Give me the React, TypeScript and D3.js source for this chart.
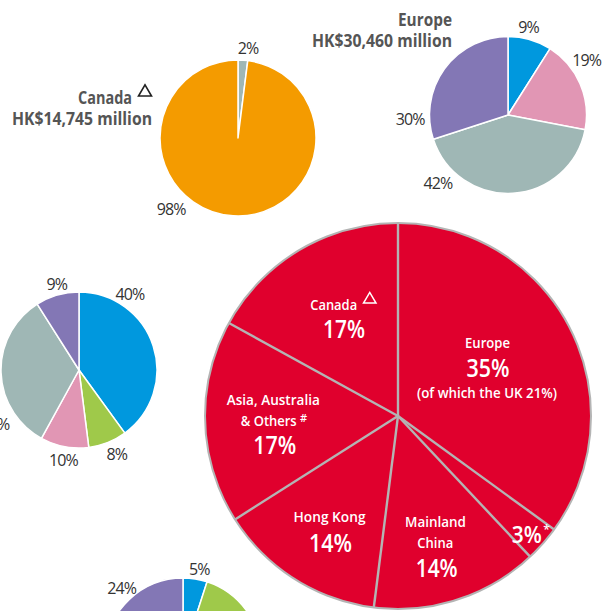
import React from 'react';
import * as d3 from 'd3';

// ---------- data ----------
const bigCategories = ['Europe', 'Other', 'Mainland China', 'Hong Kong', 'Asia, Australia & Others', 'Canada'];
const bigValues = [35, 3, 14, 14, 17, 17];
const bigLabelLines = [['Europe'], [], ['Mainland', 'China'], ['Hong Kong'], ['Asia, Australia', '& Others'], ['Canada']];
const bigMarks = ['', '*', '', '', '#', 'triangle'];
const europeNote = '(of which the UK 21%)';

const canadaTitle = ['Canada', 'HK$14,745 million'];
const canadaValues = [2, 98];

const europeTitle = ['Europe', 'HK$30,460 million'];
const europeValues = [9, 19, 42, 30];

const leftValues = [40, 8, 10, 33, 9];
const bottomValues = [5, 20, 11, 40, 24];

// ---------- styles ----------
const C = {
  red: '#e0002d',
  orange: '#f49b00',
  gray: '#9fb7b5',
  blue: '#0098de',
  pink: '#e196b4',
  purple: '#8377b5',
  green: '#9fc94a',
  sep: '#b4b4b4',
  text: '#333333',
  title: '#555555',
};
const FONT = "'Open Sans', 'Noto Sans', sans-serif";
const W = 612, H = 611;

const canadaColors = [C.gray, C.orange];
const europeColors = [C.blue, C.pink, C.gray, C.purple];
const mixColors = [C.blue, C.green, C.pink, C.gray, C.purple];

// label anchors: [angle deg clockwise from top, distance]
const canadaLabelPos = [[6.3, 90.6], [223.3, 97.6]];
const europeLabelPos = [[13.2, 90.4], [55, 96], [225.8, 97.6], [267.7, 98]];
const leftLabelPos = [[33.9, 91.5], [155.8, 92], [189.8, 92], [237.3, 100], [345.5, 88.8]];
const bottomLabelPos = [[10.6, 88.2], [120, 95], [170, 95], [230, 95], [318, 91.5]];

const pieGen = d3.pie<number>().sort(null).value((d) => d);

function polar(cx: number, cy: number, a: number, d: number) {
  const r = (a * Math.PI) / 180;
  return [cx + d * Math.sin(r), cy - d * Math.cos(r)];
}

function SmallPie({ cx, cy, r, values, colors, labelPos }: any) {
  const arcs = pieGen(values);
  const arc = d3.arc<any>().innerRadius(0).outerRadius(r);
  return (
    <g>
      <g transform={`translate(${cx},${cy})`}>
        {arcs.map((a, i) => (
          <path key={i} d={arc(a) || ''} fill={colors[i]} stroke="#fff" strokeWidth={1.5} strokeLinejoin="round" />
        ))}
      </g>
      {arcs.map((a, i) => {
        const [x, y] = polar(cx, cy, labelPos[i][0], labelPos[i][1]);
        if (y > H + 8) return null; // outside the visible frame
        return (
          <text key={i} x={x} y={y} dy="0.36em" textAnchor="middle" fontFamily={FONT} fontSize={16}
            fill={C.text} letterSpacing={-0.9}>
            {`${values[i]}%`}
          </text>
        );
      })}
    </g>
  );
}

function Triangle({ x, y, size, color, sw }: any) {
  const pts = `${x},${y} ${x + size},${y} ${x + size / 2},${y - size * 0.85}`;
  return <polygon points={pts} fill="none" stroke={color} strokeWidth={sw} strokeLinejoin="miter" />;
}

export default function App() {
  const bcx = 398, bcy = 416, br = 193;
  const bigArcs = pieGen(bigValues);
  const bigArc = d3.arc<any>().innerRadius(0).outerRadius(br);

  const white = { fill: '#fff', fontFamily: FONT, textAnchor: 'middle' as const };

  return (
    <svg width={W} height={H} viewBox={`0 0 ${W} ${H}`}
      style={{ position: 'absolute', left: 0, top: 0, background: '#fff' }}>
      {/* Canada pie */}
      <SmallPie cx={238} cy={138} r={78} values={canadaValues} colors={canadaColors} labelPos={canadaLabelPos} />
      <text x={132} y={104} textAnchor="end" fontFamily={FONT} fontWeight={700} fontSize={18} fill={C.title}
        textLength={54} lengthAdjust="spacingAndGlyphs">{canadaTitle[0]}</text>
      <Triangle x={138.5} y={96} size={13} color="#222" sw={1.6} />
      <text x={152} y={125} textAnchor="end" fontFamily={FONT} fontWeight={700} fontSize={18} fill={C.title}
        textLength={140} lengthAdjust="spacingAndGlyphs">{canadaTitle[1]}</text>

      {/* Europe pie */}
      <SmallPie cx={508} cy={115} r={78.5} values={europeValues} colors={europeColors} labelPos={europeLabelPos} />
      <text x={452} y={26} textAnchor="end" fontFamily={FONT} fontWeight={700} fontSize={18} fill={C.title}
        textLength={54} lengthAdjust="spacingAndGlyphs">{europeTitle[0]}</text>
      <text x={452} y={46.5} textAnchor="end" fontFamily={FONT} fontWeight={700} fontSize={18} fill={C.title}
        textLength={140} lengthAdjust="spacingAndGlyphs">{europeTitle[1]}</text>

      {/* Left pie */}
      <SmallPie cx={79} cy={370} r={78} values={leftValues} colors={mixColors} labelPos={leftLabelPos} />

      {/* Bottom pie */}
      <SmallPie cx={183} cy={656} r={78} values={bottomValues} colors={mixColors} labelPos={bottomLabelPos} />

      {/* Big pie */}
      <g transform={`translate(${bcx},${bcy})`}>
        {bigArcs.map((a, i) => (
          <path key={i} d={bigArc(a) || ''} fill={C.red} />
        ))}
        {bigArcs.map((a, i) => {
          const ang = a.startAngle;
          return (
            <line key={'s' + i} x1={0} y1={0} x2={br * Math.sin(ang)} y2={-br * Math.cos(ang)}
              stroke={C.sep} strokeWidth={2.4} />
          );
        })}
        <circle r={br} fill="none" stroke={C.sep} strokeWidth={2} />
      </g>

      {/* Big pie labels */}
      <text x={333.7} y={309.5} {...white} fontSize={14} fontWeight={600}
        textLength={47} lengthAdjust="spacingAndGlyphs">{bigLabelLines[5][0]}</text>
      {bigMarks[5] === 'triangle' && <Triangle x={363.5} y={303} size={12.5} color="#fff" sw={1.5} />}
      <text x={344} y={338} {...white} fontSize={25} fontWeight={600}
        textLength={42} lengthAdjust="spacingAndGlyphs">{`${bigValues[5]}%`}</text>

      <text x={487.5} y={348} {...white} fontSize={14} fontWeight={600}
        textLength={45} lengthAdjust="spacingAndGlyphs">{bigLabelLines[0][0]}</text>
      <text x={488} y={376.5} {...white} fontSize={25} fontWeight={600}
        textLength={43} lengthAdjust="spacingAndGlyphs">{`${bigValues[0]}%`}</text>
      <text x={487} y={397.5} {...white} fontSize={14} fontWeight={600}
        textLength={140} lengthAdjust="spacingAndGlyphs">{europeNote}</text>

      <text x={273.3} y={404.5} {...white} fontSize={14} fontWeight={600}
        textLength={93} lengthAdjust="spacingAndGlyphs">{bigLabelLines[4][0]}</text>
      <text x={268.7} y={426} {...white} fontSize={14} fontWeight={600}
        textLength={56} lengthAdjust="spacingAndGlyphs">{bigLabelLines[4][1]}</text>
      <text x={303.5} y={422} {...white} fontSize={11} fontWeight={600}>{bigMarks[4]}</text>
      <text x={274.7} y={454} {...white} fontSize={25} fontWeight={600}
        textLength={43} lengthAdjust="spacingAndGlyphs">{`${bigValues[4]}%`}</text>

      <text x={329.5} y={522} {...white} fontSize={14} fontWeight={600}
        textLength={72} lengthAdjust="spacingAndGlyphs">{bigLabelLines[3][0]}</text>
      <text x={330.5} y={551.5} {...white} fontSize={25} fontWeight={600}
        textLength={43} lengthAdjust="spacingAndGlyphs">{`${bigValues[3]}%`}</text>

      <text x={435.5} y={527} {...white} fontSize={14} fontWeight={600}
        textLength={61} lengthAdjust="spacingAndGlyphs">{bigLabelLines[2][0]}</text>
      <text x={435.3} y={548} {...white} fontSize={14} fontWeight={600}
        textLength={36} lengthAdjust="spacingAndGlyphs">{bigLabelLines[2][1]}</text>
      <text x={436.7} y={576.5} {...white} fontSize={25} fontWeight={600}
        textLength={42} lengthAdjust="spacingAndGlyphs">{`${bigValues[2]}%`}</text>

      <text x={526.7} y={543.3} {...white} fontSize={24} fontWeight={600}
        textLength={30} lengthAdjust="spacingAndGlyphs">{`${bigValues[1]}%`}</text>
      <text x={546.5} y={534} {...white} fontSize={12} fontWeight={600}>{bigMarks[1]}</text>
    </svg>
  );
}
